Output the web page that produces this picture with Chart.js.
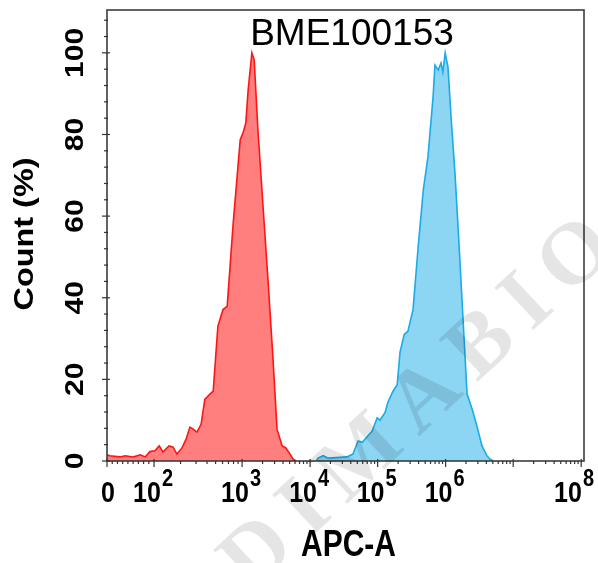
<!DOCTYPE html>
<html>
<head>
<meta charset="utf-8">
<script src="https://cdn.jsdelivr.net/npm/chart.js@4/dist/chart.umd.min.js"></script>
<style>
html,body{margin:0;padding:0;background:#fff;}
#wrap{width:598px;height:563px;position:relative;}
</style>
</head>
<body>
<div id="wrap"><canvas id="c"></canvas></div>
<script>
// ---- data (x in display channels 0..1024 of the biexponential APC-A axis, y in Count %) ----
const redX = [0, 6, 28, 39, 56, 71, 82, 92, 103, 112, 120, 133, 142, 150, 161, 170, 178, 185, 193, 202, 210, 221, 228, 238, 249, 258, 271, 286, 292, 298, 303, 311, 316, 324, 335, 346, 356, 365, 376, 384, 393, 399, 406];
const redY = [1.5, 1.3, 1.0, 1.3, 1.0, 1.5, 1.0, 2.3, 2.5, 3.7, 2.2, 3.7, 3.4, 1.7, 3.2, 5.4, 8.3, 7.8, 7.1, 9.0, 15.1, 16.4, 17.1, 33.0, 37.1, 37.9, 58.4, 78.7, 80.4, 82.8, 90.9, 100, 98.2, 81.1, 62.3, 43.7, 25.7, 7.8, 3.7, 3.2, 1.7, 0.5, 0];
const blueX = [449, 453, 464, 475, 515, 528, 539, 548, 558, 569, 580, 586, 597, 603, 614, 623, 629, 638, 646, 657, 668, 679, 689, 700, 704, 711, 717, 721, 726, 732, 739, 747, 756, 764, 773, 784, 794, 805, 816, 822, 829];
const blueY = [0, 0.7, 1.3, 0.7, 1.0, 1.7, 4.9, 4.6, 5.9, 7.3, 10.6, 10.0, 11.9, 14.4, 17.1, 18.7, 26.6, 31.0, 31.8, 37.1, 52.5, 66.4, 74.5, 89.2, 97.0, 95.8, 97.5, 95.3, 100, 96.5, 83.6, 70.6, 52.5, 35.4, 16.4, 12.7, 8.6, 3.7, 1.2, 0.5, 0];

const xTickChannels = [0, 101, 290, 436, 581, 727, 872, 1018];
const xTickLabels = ['0', '10^2', '10^3', '10^4', '10^5', '10^6', '', '10^8'];
const yTicks = [0, 20, 40, 60, 80, 100];
const yMinorStep = 4;
const chartTitle = 'BME100153';
const xTitle = 'APC-A';
const yTitle = 'Count (%)';
const watermark = 'DIMABIO';

const FONT = '"Liberation Sans", Arial, sans-serif';

function toPts(xs, ys){ return xs.map((x,i)=>({x:x, y:ys[i]})); }

function drawText(ctx, s, x, y, font, o){
  o = o || {};
  ctx.save();
  ctx.translate(x, y);
  if (o.rot) ctx.rotate(o.rot);
  ctx.scale(o.sx || 1, o.sy || 1);
  ctx.font = font;
  ctx.fillStyle = o.color || '#000';
  ctx.textAlign = o.align || 'center';
  ctx.textBaseline = o.baseline || 'alphabetic';
  ctx.fillText(s, 0, 0);
  ctx.restore();
}

const axesPlugin = {
  id: 'flowAxes',
  afterDraw(chart){
    const ctx = chart.ctx;
    const a = chart.chartArea;
    const xs = chart.scales.x, ys = chart.scales.y;
    ctx.save();
    // frame
    ctx.strokeStyle = '#3c3c3c';
    ctx.lineWidth = 1.6;
    ctx.strokeRect(a.left, a.top, a.right - a.left, a.bottom - a.top);

    // y ticks
    ctx.lineWidth = 1.2;
    ctx.strokeStyle = '#333';
    for (let v = 0; v <= ys.max + 0.001; v += yMinorStep){
      const py = ys.getPixelForValue(v);
      const major = yTicks.includes(v);
      ctx.beginPath();
      ctx.moveTo(a.left - (major ? 5 : 3), py);
      ctx.lineTo(a.left + (major ? 3 : 1), py);
      ctx.stroke();
    }
    // x ticks (major + minor decade ticks)
    for (let i = 0; i < xTickChannels.length; i++){
      const px = xs.getPixelForValue(xTickChannels[i]);
      ctx.beginPath();
      ctx.moveTo(px, a.bottom - 2);
      ctx.lineTo(px, a.bottom + 6);
      ctx.stroke();
      if (i < xTickChannels.length - 1){
        const c0 = xTickChannels[i], c1 = xTickChannels[i+1];
        for (let m = 2; m <= 9; m++){
          const f = i === 0 ? (m - 1) / 9 : Math.log10(m);
          const pm = xs.getPixelForValue(c0 + (c1 - c0) * f);
          ctx.beginPath();
          ctx.moveTo(pm, a.bottom);
          ctx.lineTo(pm, a.bottom + 3);
          ctx.stroke();
        }
      }
    }
    ctx.restore();

    // y tick labels (rotated)
    const yFont = 'bold 25px ' + FONT;
    yTicks.forEach(v => {
      const py = ys.getPixelForValue(v);
      drawText(ctx, String(v), a.left - 24, py, yFont, {rot: -Math.PI/2, sx: 1.2});
    });

    // x tick labels with superscripts
    const baseFont = 'bold 25px ' + FONT;
    const supFont = 'bold 20px ' + FONT;
    const baseY = a.bottom + 41;
    xTickLabels.forEach((lab, i) => {
      if (!lab) return;
      let px = xs.getPixelForValue(xTickChannels[i]);
      const parts = lab.split('^');
      ctx.font = baseFont;
      const w1 = ctx.measureText(parts[0]).width;
      let w2 = 0;
      if (parts[1]) { ctx.font = supFont; w2 = ctx.measureText(parts[1]).width + 1; }
      const w = w1 + w2;
      let left = px - w/2 - 1;
      if (left + w > 594) left = 594 - w;
      if (left < a.left - 6) left = a.left - 6;
      drawText(ctx, parts[0], left, baseY, baseFont, {align: 'left', sy: 1.2});
      if (parts[1]) drawText(ctx, parts[1], left + w1 + 1, baseY - 16, supFont, {align: 'left', sy: 1.2});
    });

    // axis titles
    drawText(ctx, xTitle, (a.left + a.right)/2 + 3, a.bottom + 95, 'bold 30px ' + FONT, {sy: 1.2});
    drawText(ctx, yTitle, 33, 234, 'bold 27px ' + FONT, {rot: -Math.PI/2, sx: 1.2});
    // chart title inside plot
    drawText(ctx, chartTitle, 352, 45, '37px ' + FONT, {});

    // watermark
    ctx.save();
    ctx.translate(425, 400);
    ctx.rotate(-43 * Math.PI / 180);
    ctx.font = 'bold 88px "Liberation Serif", "Times New Roman", serif';
    try { ctx.letterSpacing = '16px'; } catch(e) {}
    ctx.fillStyle = 'rgba(0,0,0,0.10)';
    ctx.textAlign = 'center';
    ctx.textBaseline = 'middle';
    ctx.fillText(watermark, 0, 0);
    ctx.restore();
  }
};

new Chart(document.getElementById('c'), {
  type: 'line',
  data: {
    datasets: [
      {
        label: 'Isotype',
        data: toPts(redX, redY),
        borderColor: 'rgb(255,20,20)',
        backgroundColor: 'rgba(255,0,0,0.5)',
        borderWidth: 1.6,
        fill: 'origin',
        pointRadius: 0,
        tension: 0
      },
      {
        label: 'BME100153',
        data: toPts(blueX, blueY),
        borderColor: 'rgb(25,172,232)',
        backgroundColor: 'rgba(25,172,232,0.5)',
        borderWidth: 1.6,
        fill: 'origin',
        pointRadius: 0,
        tension: 0
      }
    ]
  },
  options: {
    responsive: true,
    maintainAspectRatio: false,
    animation: false,
    devicePixelRatio: 1,
    layout: { padding: { left: 99, right: 14, top: 10, bottom: 94 } },
    plugins: { legend: { display: false }, tooltip: { enabled: false }, title: { display: false } },
    scales: {
      x: {
        type: 'linear', min: 0, max: 1024,
        ticks: { display: false },
        grid: { display: false },
        border: { display: false }
      },
      y: {
        type: 'linear', min: 0, max: 110.5,
        ticks: { display: false },
        grid: { display: false },
        border: { display: false }
      }
    }
  },
  plugins: [axesPlugin]
});
</script>
</body>
</html>
